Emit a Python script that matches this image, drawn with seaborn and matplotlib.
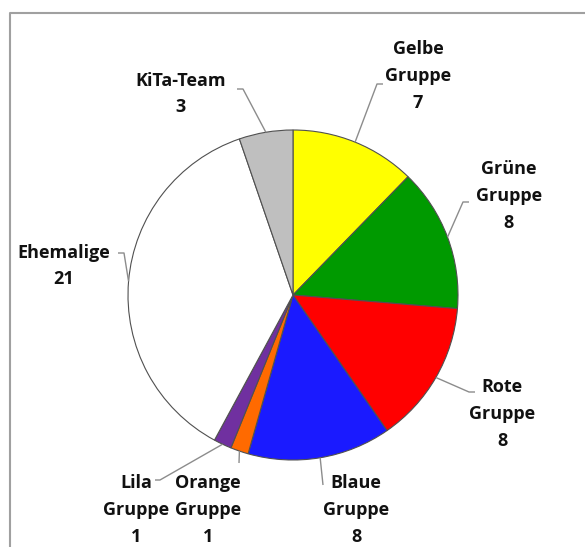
import numpy as np
import matplotlib
matplotlib.use("Agg")
import matplotlib.pyplot as plt
import seaborn as sns

# ---- data ----
categories = ["Gelbe\nGruppe", "Grüne\nGruppe", "Rote\nGruppe", "Blaue\nGruppe",
              "Orange\nGruppe", "Lila\nGruppe", "Ehemalige", "KiTa-Team"]
values = [7, 8, 8, 8, 1, 1, 21, 3]
colors = ["#FFFF00", "#009A00", "#FF0000", "#1A1AFF",
          "#FF6A00", "#7030A0", "#FFFFFF", "#BFBFBF"]

sns.set_theme(style="white")
plt.rcParams["font.family"] = ["Open Sans", "DejaVu Sans"]

W, H = 585, 547
fig = plt.figure(figsize=(W / 100, H / 100), dpi=100)
ax = fig.add_axes([0, 0, 1, 1])

def py(y):  # pixel row -> data y
    return H - y

cx, cy, R = 293, py(295), 165
wedges, _ = ax.pie(values, colors=colors, startangle=90, counterclock=False,
                   center=(cx, cy), radius=R, frame=True,
                   wedgeprops=dict(edgecolor="#505050", linewidth=0.8))
ax.set_xlim(0, W)
ax.set_ylim(0, H)
ax.set_aspect("equal")
ax.axis("off")

# label block centres (pixels) and leader elbows
label_pos = [(418, 76), (509, 196), (502, 414), (356, 510),
             (208, 510), (136, 510), (64, 266), (181, 94)]
leaders = [[(377, 84), (383, 84)],
           [(463, 202), (469, 202)],
           [(469, 392), (475, 392)],
           [(323, 485)],
           [(239, 463)],
           [(160, 480), (155, 480)],
           [(124, 253), (118, 253)],
           [(243, 89), (237, 89)]]

for w, cat, v, (lx, ly), pts in zip(wedges, categories, values, label_pos, leaders):
    mid = np.deg2rad((w.theta1 + w.theta2) / 2)
    rx, ry = cx + R * np.cos(mid), cy + R * np.sin(mid)
    xs = [rx] + [p[0] for p in pts]
    ys = [ry] + [py(p[1]) for p in pts]
    ax.plot(xs, ys, color="#8C8C8C", lw=1.0, solid_capstyle="butt")
    ax.text(lx, py(ly), f"{cat}\n{v}", ha="center", va="center",
            fontsize=13, fontweight="bold", color="#111111", linespacing=1.62)

# chart frame
ax.plot([9.5, 9.5, W], [0, py(12.5), py(12.5)], color="#A0A0A0", lw=1.5,
        clip_on=False)

fig.savefig("out.png", dpi=100, facecolor="white")
